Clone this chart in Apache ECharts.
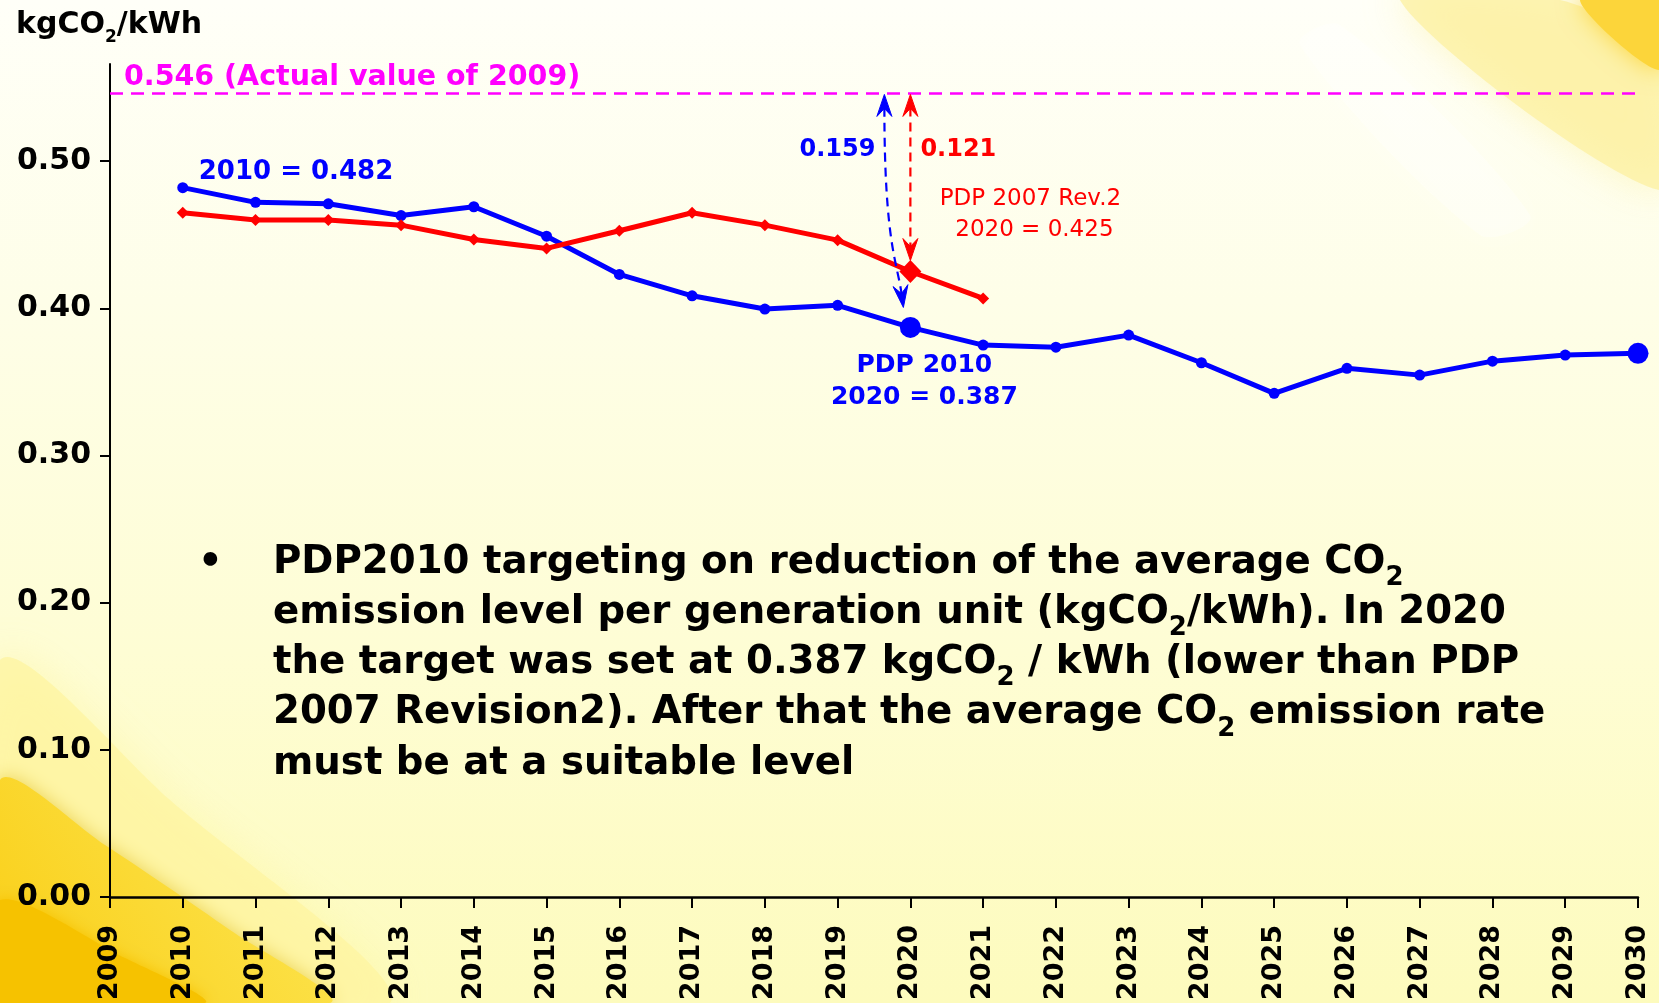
<!DOCTYPE html>
<html><head><meta charset="utf-8">
<script src="https://cdn.jsdelivr.net/npm/echarts@6/dist/echarts.min.js"></script>
<style>html,body{margin:0;padding:0;width:1659px;height:1003px;overflow:hidden;background:#fefee6}#c{width:1659px;height:1003px}</style>
</head><body><div id="c"></div>
<script>
// ---------------- data ----------------
const years = ['2009','2010','2011','2012','2013','2014','2015','2016','2017','2018','2019','2020','2021','2022','2023','2024','2025','2026','2027','2028','2029','2030'];
const pdp2010 = [null, 0.482, 0.472, 0.471, 0.463, 0.469, 0.449, 0.423, 0.4085, 0.3995, 0.402, 0.387, 0.375, 0.3736, 0.3818, 0.363, 0.3422, 0.3592, 0.3546, 0.3641, 0.3682, 0.3694];
const pdp2007rev2 = [null, 0.465, 0.46, 0.46, 0.4565, 0.4468, 0.4407, 0.4527, 0.4649, 0.4565, 0.4463, 0.425, 0.4067];
const actual2009 = 0.546;
const yTickValues = [0, 0.1, 0.2, 0.3, 0.4, 0.5];
const yMax = 0.566;
const bigBlueYears = ['2020', '2030'];
const bigRedYears = ['2020'];
const titleText = 'kgCO₂/kWh';
const actualLabel = '0.546 (Actual value of 2009)';
const blueStartLabel = '2010 = 0.482';
const blueDiffLabel = '0.159';
const redDiffLabel = '0.121';
const redNoteLines = ['PDP 2007 Rev.2', '2020 = 0.425'];
const blueNoteLines = ['PDP 2010', '2020 = 0.387'];
const bulletLines = [
  'PDP2010 targeting on reduction of the average CO₂',
  'emission level per generation unit (kgCO₂/kWh). In 2020',
  'the target was set at 0.387 kgCO₂ / kWh (lower than PDP',
  '2007 Revision2). After that the average CO₂ emission rate',
  'must be at a suitable level'
];

// ---------------- styles ----------------
const FF = '"DejaVu Sans", Verdana, sans-serif';
const BLUE = '#0000ff', RED = '#ff0000', MAG = '#ff00ff';

function toRich(s, main, sub) {
  const parts = s.split('₂');
  let out = '';
  parts.forEach((p, i) => {
    if (p) out += '{' + main + '|' + p + '}';
    if (i < parts.length - 1) out += '{' + sub + '|2}';
  });
  return out;
}
function richStyles(fs, fsub, color, weight) {
  const p = Math.round(0.846 * fs - fsub / 2 + 2);
  return {
    m: {fontSize: fs, fontWeight: weight, fontFamily: FF, fill: color, color: color, verticalAlign: 'top'},
    s: {fontSize: fsub, fontWeight: weight, fontFamily: FF, fill: color, color: color, verticalAlign: 'bottom', padding: [p, 0, 0, 0]}
  };
}

const chart = echarts.init(document.getElementById('c'), null, {renderer: 'canvas'});

const option = {
  animation: false,
  backgroundColor: 'transparent',
  grid: {left: 110, right: 21, top: 64, bottom: 106, containLabel: false, outerBoundsMode: 'none'},
  xAxis: {
    type: 'category', data: years, boundaryGap: false,
    axisLine: {show: true, onZero: false, lineStyle: {color: '#000', width: 2.5}},
    axisTick: {show: true, length: 11, inside: false, lineStyle: {color: '#000', width: 2}},
    axisLabel: {show: true, interval: 0, rotate: 90, margin: 28, color: '#000', fontSize: 27, fontWeight: 'bold', fontFamily: FF},
    splitLine: {show: false}
  },
  yAxis: {
    type: 'value', min: 0, max: yMax, interval: 0.1,
    axisLine: {show: true, lineStyle: {color: '#000', width: 2}},
    axisTick: {show: true, length: 10, customValues: yTickValues, lineStyle: {color: '#000', width: 2}},
    axisLabel: {show: true, customValues: yTickValues, margin: 19, formatter: v => v.toFixed(2), color: '#000', fontSize: 30, fontWeight: 'bold', fontFamily: FF},
    splitLine: {show: false}
  },
  series: [
    {
      name: 'PDP 2010', type: 'line', data: pdp2010, color: BLUE,
      lineStyle: {width: 5, color: BLUE}, itemStyle: {color: BLUE},
      symbol: 'circle', showSymbol: true, showAllSymbol: true,
      symbolSize: (v, p) => bigBlueYears.includes(years[p.dataIndex]) ? 21 : 11,
      emphasis: {disabled: true}, z: 3,
      markLine: {
        silent: true, symbol: ['none', 'none'], label: {show: false},
        lineStyle: {color: MAG, width: 2.5, type: [13, 8]},
        emphasis: {disabled: true},
        data: [[{coord: [years[0], actual2009]}, {coord: [years[years.length - 1], actual2009]}]]
      }
    },
    {
      name: 'PDP 2007 Rev.2', type: 'line', data: pdp2007rev2, color: RED,
      lineStyle: {width: 5, color: RED}, itemStyle: {color: RED},
      symbol: 'diamond', showSymbol: true, showAllSymbol: true,
      symbolSize: (v, p) => bigRedYears.includes(years[p.dataIndex]) ? [22, 23] : [12, 12],
      emphasis: {disabled: true}, z: 4
    }
  ]
};
chart.setOption(option);

// ---------------- annotations ----------------
const px = (i, v) => chart.convertToPixel({xAxisIndex: 0, yAxisIndex: 0}, [i, v]);
const i2010 = years.indexOf('2010'), i2020 = years.indexOf('2020');
const [x2020, yLine] = px(i2020, actual2009);
const yBlue2020 = px(i2020, pdp2010[i2020])[1];
const yRed2020 = px(i2020, pdp2007rev2[i2020])[1];
const [x2010, yB2010] = px(i2010, pdp2010[i2010]);
const xAxisStart = px(0, 0)[0];

function txt(text, x, y, size, color, weight, align, valign, z) {
  return {type: 'text', z: z || 20, silent: true, x: 0, y: 0,
    style: {text: text, x: x, y: y, fill: color, fontSize: size, fontWeight: weight, fontFamily: FF,
      font: weight + ' ' + size + 'px ' + FF,
      align: align, textAlign: align, verticalAlign: valign, textVerticalAlign: valign}};
}
function richTxt(str, x, y, fs, fsub, color, weight) {
  return {type: 'text', z: 20, silent: true, x: 0, y: 0,
    style: {text: toRich(str, 'm', 's'), x: x, y: y, align: 'left', textAlign: 'left', verticalAlign: 'top', textVerticalAlign: 'top',
      fontSize: fs, fontWeight: weight, fontFamily: FF, fill: color, rich: richStyles(fs, fsub, color, weight)}};
}
function head(tx, ty, dx, dy, color) {
  const len = Math.hypot(dx, dy); dx /= len; dy /= len;
  const nx = -dy, ny = dx, L = 22, W = 7.5, N = 14;
  return {type: 'polygon', z: 20, silent: true,
    shape: {points: [[tx, ty], [tx - dx * L + nx * W, ty - dy * L + ny * W], [tx - dx * N, ty - dy * N], [tx - dx * L - nx * W, ty - dy * L - ny * W]]},
    style: {fill: color, stroke: color, lineWidth: 1}};
}
function blob(points, fill, z, blur, shadow) {
  return {type: 'polygon', z: z, silent: true, shape: {points: points, smooth: 0.3},
    style: {fill: fill, shadowBlur: blur || 0, shadowColor: shadow || 'rgba(0,0,0,0)'}};
}

const G = [];
// background
G.push({type: 'rect', z: -100, silent: true, shape: {x: 0, y: 0, width: 1659, height: 1003},
  style: {fill: new echarts.graphic.LinearGradient(0, 0, 0, 1, [
    {offset: 0, color: '#fffff8'}, {offset: 0.3, color: '#fefee8'}, {offset: 0.65, color: '#fefdd4'}, {offset: 1, color: '#fdfbbd'}])}});
// bottom-left swoosh
G.push(blob([[0, 660], [170, 800], [390, 1003], [0, 1003]], 'rgba(253,244,160,0.75)', -99, 40, 'rgba(253,244,160,0.75)'));
G.push(blob([[0, 780], [105, 845], [230, 930], [330, 1003], [0, 1003]], new echarts.graphic.LinearGradient(1, 0, 0, 1, [{offset: 0, color: '#fde85a'}, {offset: 1, color: '#f9cc10'}]), -98, 18, 'rgba(230,200,60,0.8)'));
G.push(blob([[0, 900], [125, 958], [205, 1003], [0, 1003]], '#f6c200', -97, 14, '#f6c200'));
// top-right swoosh
G.push(blob([[1400, 0], [1560, 0], [1659, 60], [1659, 190]], 'rgba(252,240,160,0.75)', -99, 40, 'rgba(252,240,160,0.75)'));
G.push(blob([[1580, 0], [1659, 0], [1659, 70]], '#fcd53a', -98, 25, '#fcd53a'));
G.push(blob([[1300, 45], [1340, 25], [1530, 215], [1480, 235]], 'rgba(255,255,255,0.35)', -98, 30, 'rgba(255,255,255,0.35)'));

// title
G.push(richTxt(titleText, 16, 10, 30, 17, '#000', 'bold'));
// actual value label
G.push(txt(actualLabel, xAxisStart + 14, yLine - 6 - 0.846 * 28.5, 28.5, MAG, 'bold', 'left', 'top'));
// 2010 label
G.push(txt(blueStartLabel, x2010 + 16, yB2010 - 15, 26, BLUE, 'bold', 'left', 'middle'));
// diff labels
const bx = x2020 - 26;
G.push(txt(blueDiffLabel, bx - 9, yLine + 56, 24, BLUE, 'bold', 'right', 'middle'));
G.push(txt(redDiffLabel, x2020 + 10, yLine + 56, 24, RED, 'bold', 'left', 'middle'));
// notes
G.push(txt(redNoteLines[0], x2020 + 120, yRed2020 - 72, 23, RED, 'normal', 'center', 'middle'));
G.push(txt(redNoteLines[1], x2020 + 124, yRed2020 - 41, 23, RED, 'normal', 'center', 'middle'));
G.push(txt(blueNoteLines[0], x2020 + 14, yBlue2020 + 38, 25, BLUE, 'bold', 'center', 'middle'));
G.push(txt(blueNoteLines[1], x2020 + 14, yBlue2020 + 70, 25, BLUE, 'bold', 'center', 'middle'));

// red arrow
const rTopY = yLine + 1, rTipY = yRed2020 - 11;
G.push({type: 'line', z: 19, silent: true, shape: {x1: x2020, y1: rTopY + 13, x2: x2020, y2: rTipY - 13},
  style: {stroke: RED, lineWidth: 2.2, lineDash: [9, 6]}});
G.push(head(x2020, rTopY, 0, -1, RED));
G.push(head(x2020, rTipY, 0, 1, RED));
// blue arrow
const bTip = [x2020 - 7, yBlue2020 - 20];
const cp2 = [bx + 13, bTip[1] - 45];
let ddx = bTip[0] - cp2[0], ddy = bTip[1] - cp2[1];
const dl = Math.hypot(ddx, ddy);
const bEnd = [bTip[0] - ddx / dl * 13, bTip[1] - ddy / dl * 13];
G.push({type: 'bezierCurve', z: 19, silent: true,
  shape: {x1: bx, y1: yLine + 14, cpx1: bx, cpy1: yLine + 150, cpx2: cp2[0], cpy2: cp2[1], x2: bEnd[0], y2: bEnd[1]},
  style: {stroke: BLUE, fill: null, lineWidth: 2.2, lineDash: [9, 6]}});
G.push(head(bx, yLine + 1, 0, -1, BLUE));
G.push(head(bTip[0], bTip[1], ddx, ddy, BLUE));

// bullet text
const firstTop = 543, step = 50.3;
G.push(txt('•', 198, firstTop, 38.7, '#000', 'bold', 'left', 'top'));
bulletLines.forEach((l, i) => G.push(richTxt(l, 273, firstTop + i * step, 38.7, 26, '#000', 'bold')));

chart.setOption({graphic: {elements: G}});
</script>
</body></html>
